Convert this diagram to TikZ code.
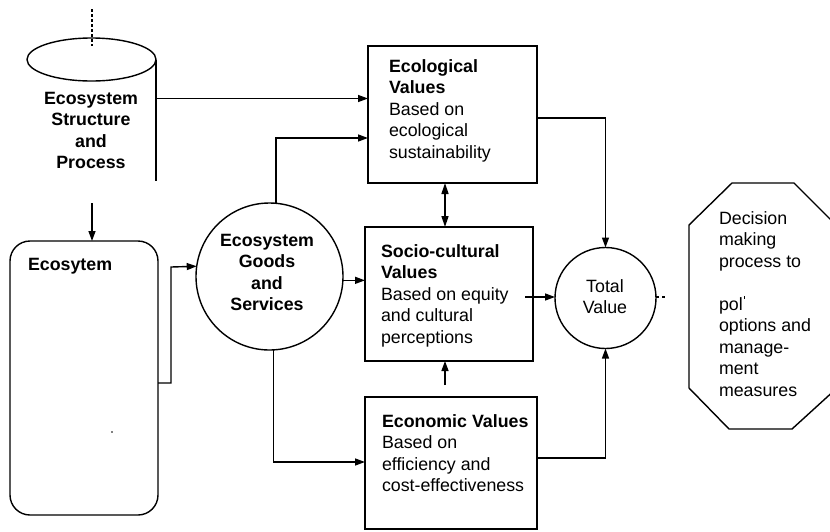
\documentclass[tikz,border=0pt]{standalone}
\usepackage{fontspec}
\setmainfont{Liberation Sans}
\usetikzlibrary{arrows.meta,shapes.geometric}

\begin{document}
\begin{tikzpicture}[x=1pt,y=-1pt,
  line width=1.4pt,
  txt/.style={font=\fontsize{17.8}{21.5}\selectfont, inner sep=0pt, outer sep=0pt},
  valbox/.style={draw, rectangle, anchor=north west, inner sep=0pt, outer sep=0pt},
  roundcircle/.style={draw, circle, inner sep=0pt, outer sep=0pt},
  arr/.style={-{Triangle[length=10pt,width=7pt]}},
  dblarr/.style={{Triangle[length=11pt,width=7pt]}-{Triangle[length=11pt,width=7pt]}}
]
\useasboundingbox (0,0) rectangle (830,531);

% ---- ecosystem structure and process (open cylinder) ----
% text nodes are placed by the baseline of their last line
\node[draw, ellipse, minimum width=129pt, minimum height=43pt, inner sep=0pt, outer sep=0pt] (cyl) at (91.5,59.5) {};
\draw (cyl.east) -- (cyl.east |- 0,181);
\draw[dash pattern=on 3pt off 2pt] (92,9) -- (92,46);
\node[txt, align=center, anchor=base] (cyltext) at (91,168.5)
  {\textbf{Ecosystem}\\\textbf{Structure}\\\textbf{and}\\\textbf{Process}};
\coordinate (cylside) at (157,98.5);
\coordinate (cylbottom) at (92,203);

% ---- ecosystem box ----
\node[draw, rectangle, rounded corners=20pt, anchor=north west, minimum width=148pt, minimum height=274pt, inner sep=0pt, outer sep=0pt] (ecsys) at (10,241) {};
\node[txt, anchor=base west] (ecsystext) at (28,270) {\textbf{Ecosytem}};
\fill (112,432) circle (0.9pt);

% ---- goods and services ----
\node[roundcircle, minimum size=147pt] (goods) at (269.5,276.5) {};
\node[txt, align=center, anchor=base] (goodstext) at (267,310.5)
  {\textbf{Ecosystem}\\\textbf{Goods}\\\textbf{and}\\\textbf{Services}};

% ---- value boxes ----
\node[valbox, minimum width=169pt, minimum height=137pt] (eco) at (368,46) {};
\node[txt, align=left, anchor=base west] (ecotext) at (389,158)
  {\textbf{Ecological}\\\textbf{Values}\\Based on\\ecological\\sustainability};

\node[valbox, minimum width=168pt, minimum height=134pt] (socio) at (365,227) {};
\node[txt, align=left, anchor=base west] (sociotext) at (381,343)
  {\textbf{Socio-cultural}\\\textbf{Values}\\Based on equity\\and cultural\\perceptions};

\node[valbox, minimum width=172pt, minimum height=132pt] (econ) at (365,397) {};
\node[txt, align=left, anchor=base west] (econtext) at (382,491.5)
  {\textbf{Economic Values}\\Based on\\efficiency and\\cost-effectiveness};

% ---- total value ----
\node[roundcircle, minimum size=101pt] (total) at (605.5,298) {};
\node[txt, align=center, anchor=base] (totaltext) at (605,313.5) {Total\\Value};

% ---- decision making octagon ----
\begin{scope}
\clip (0,0) rectangle (830,531);
\draw (689,225) -- (732,183) -- (794,183) -- (837,226) -- (837,388)
      -- (792,429) -- (729,429) -- (689,388) -- cycle;
\end{scope}
\node[txt, align=left, anchor=base west] (dectext) at (719,396)
  {Decision\\making\\process to\\[21.5pt]pol\hspace{1.5pt}\rule[0.62em]{1.2pt}{2.6pt}\\options and\\manage-\\ment\\measures};

% ---- connectors ----
\coordinate (sociout) at (525,297);
\coordinate (econup) at (445,385);
\coordinate (dashend) at (667,297);

\draw[arr] (cylbottom) -- (ecsys.north -| cylbottom);
\draw[arr] (cylside) -- (cylside -| eco.west);
\draw[arr] (ecsys.east |- 0,383) -| (171,267) -- (goods.172.6);
\draw[arr] (goods.85) |- (eco.west |- 0,138);
\draw[arr] (goods.-3.5) -- (socio.west |- goods.-3.5);
\draw[arr] (goods.273) |- (econ.west |- 0,462);
\draw[dblarr] (eco.south -| econup) -- (socio.north -| econup);
\draw[arr] (eco.east |- 0,118) -| (total.north);
\draw[arr] (sociout) -- (total.west |- sociout);
\draw[arr] (econ.east |- 0,458) -| (total.south);
\draw[arr] (econup) -- (socio.south -| econup);
\draw[dashed] (total.east |- dashend) -- (dashend);
\end{tikzpicture}
\end{document}
